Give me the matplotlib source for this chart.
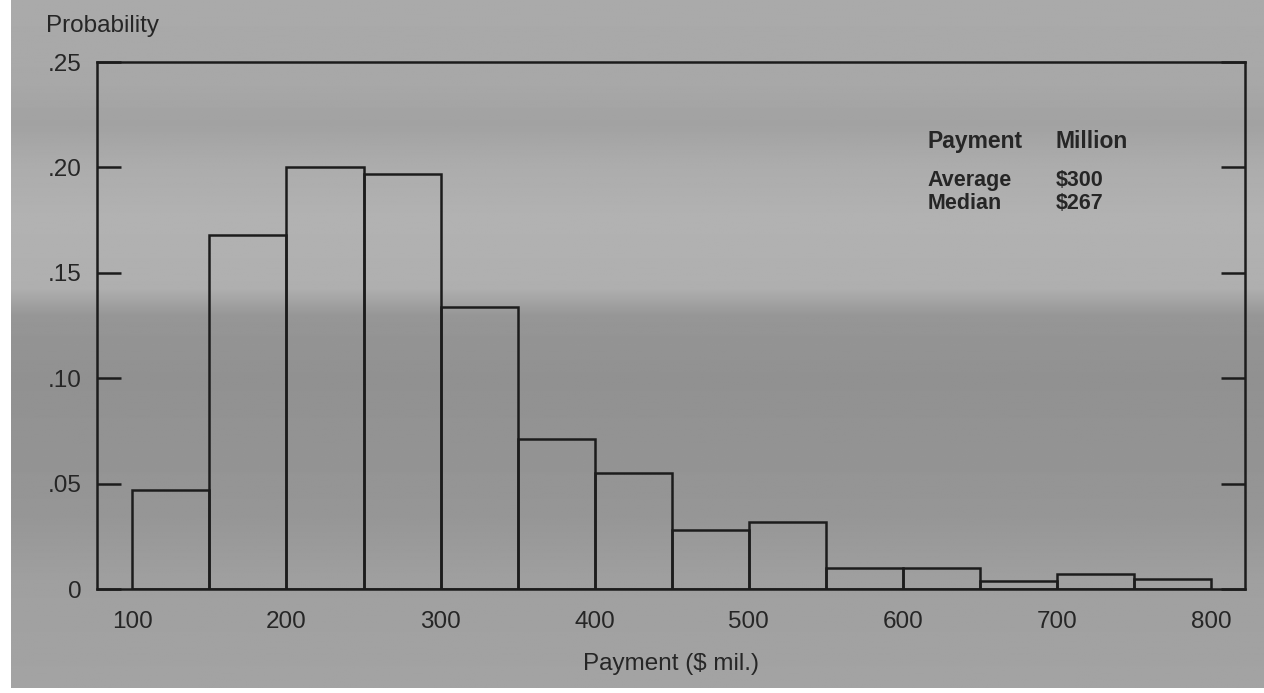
import numpy as np
import matplotlib.pyplot as plt

# histogram of payments, $50 mil. classes
bin_edges = [100, 150, 200, 250, 300, 350, 400, 450, 500, 550, 600, 650, 700, 750, 800]
probability = [0.047, 0.168, 0.200, 0.197, 0.134, 0.071, 0.055, 0.028, 0.032,
               0.010, 0.010, 0.004, 0.007, 0.005]

y_ticks = [0, 0.05, 0.10, 0.15, 0.20, 0.25]
y_tick_labels = ["0", ".05", ".10", ".15", ".20", ".25"]
x_ticks = [100, 200, 300, 400, 500, 600, 700, 800]

summary_rows = [("Payment", "Million"), ("Average", "$300"), ("Median", "$267")]

ink = "#1c1c1c"
text_col = "#262626"
plt.rcParams['font.family'] = ['Liberation Sans', 'DejaVu Sans']

fig = plt.figure(figsize=(12.64, 6.93), dpi=100)
fig.patch.set_facecolor("white")

# photographic grey backdrop: light top, pale band, darker lower band
bg = fig.add_axes([0.009, 0.007, 0.991, 0.993], zorder=0)
rows = np.linspace(0, 1, 400)
stops_y = [0.0, 0.12, 0.18, 0.24, 0.32, 0.42, 0.46, 0.55, 0.75, 0.85, 1.0]
stops_v = [170, 168, 162, 172, 178, 175, 150, 145, 150, 160, 163]
prof = np.interp(rows, stops_y, stops_v) / 255.0
img = np.repeat(prof[:, None], 10, axis=1)
bg.imshow(img, cmap="gray", vmin=0, vmax=1, aspect="auto", extent=[0, 1, 1, 0],
          interpolation="bilinear")
bg.set_axis_off()

ax = fig.add_axes([0.0767, 0.150, 0.9083, 0.7605], zorder=1)
ax.patch.set_alpha(0)

widths = np.diff(bin_edges)
ax.bar(bin_edges[:-1], probability, width=widths, align="edge",
       fill=False, edgecolor=ink, linewidth=1.8)

ax.set_xlim(77, 822)
ax.set_ylim(0, 0.25)
for s in ax.spines.values():
    s.set_color(ink)
    s.set_linewidth(1.8)

ax.set_yticks(y_ticks)
ax.set_yticklabels(y_tick_labels)
ax.tick_params(axis="y", direction="in", length=17, width=1.8, color=ink,
               left=True, right=True, labelsize=17.5, labelcolor=text_col, pad=11)
ax.set_xticks(x_ticks)
ax.tick_params(axis="x", length=0, labelsize=17.5, labelcolor=text_col, pad=16)

ax.set_xlabel("Payment ($ mil.)", fontsize=17.5, color=text_col, labelpad=14)
fig.text(0.036, 0.962, "Probability", fontsize=17.5, color=text_col,
         ha="left", va="center")

# summary box in the upper right
col_x = [0.734, 0.835]
row_y = [0.796, 0.739, 0.706]
for i, (label, value) in enumerate(summary_rows):
    size = 16.5 if i == 0 else 15.5
    fig.text(col_x[0], row_y[i], label, fontsize=size, color=text_col,
             fontweight="bold", ha="left", va="center")
    fig.text(col_x[1], row_y[i], value, fontsize=size, color=text_col,
             fontweight="bold", ha="left", va="center")

fig.savefig("out.png", dpi=100)
